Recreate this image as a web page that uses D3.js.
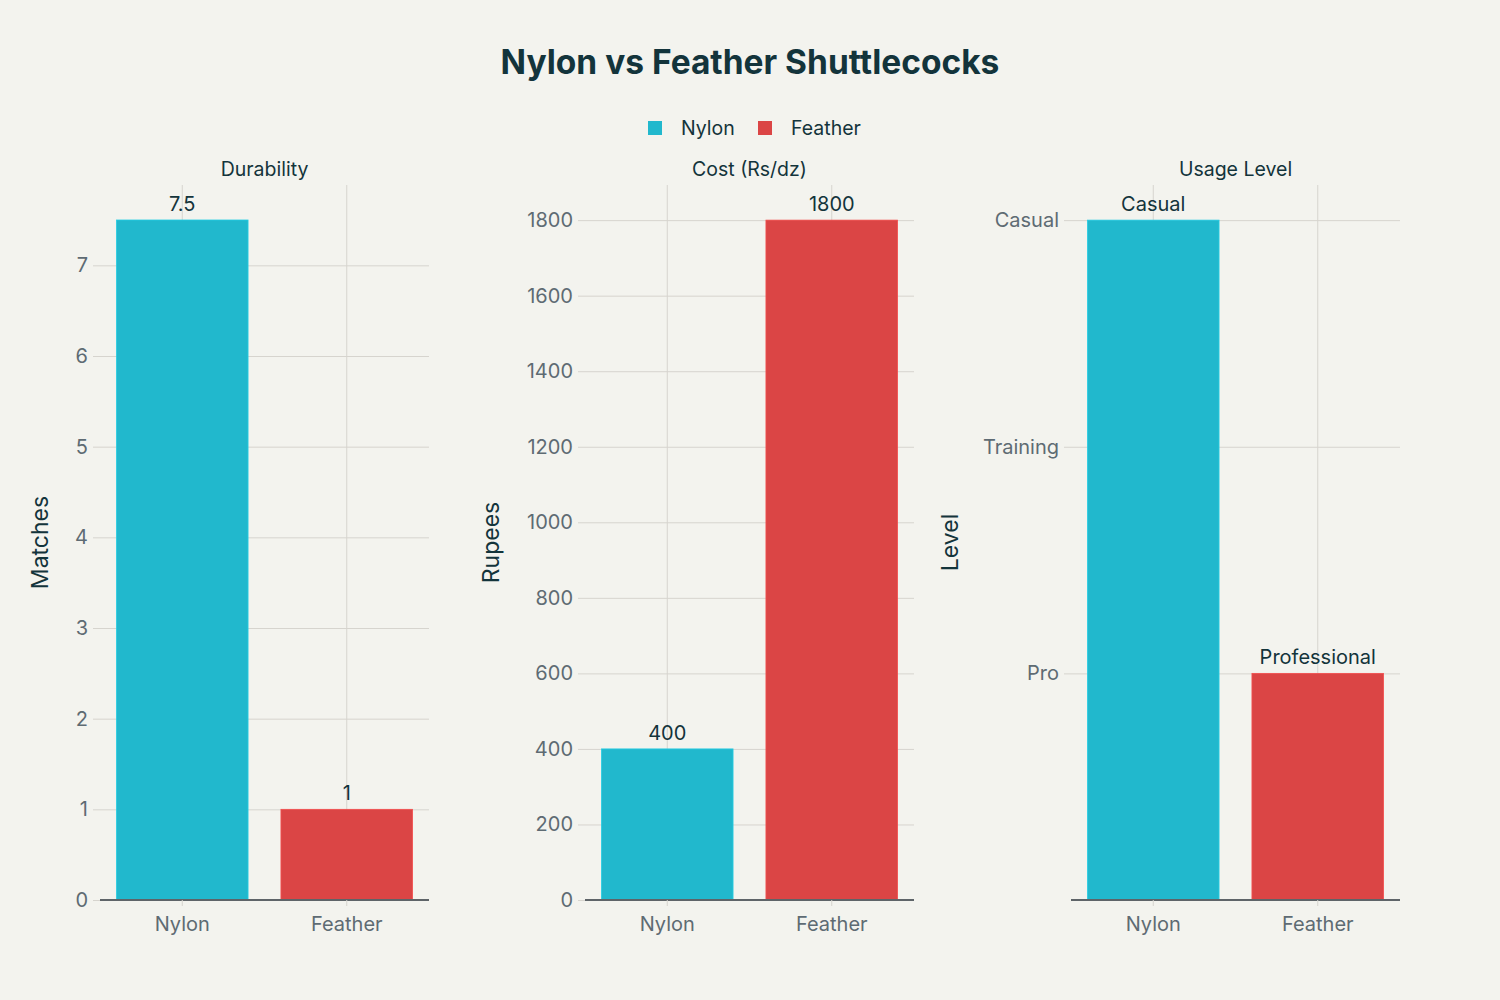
<!DOCTYPE html>
<html>
<head>
<meta charset="utf-8">
<script src="https://cdn.jsdelivr.net/npm/d3@7"></script>
<style>
  body { margin: 0; background: #F3F3EE; }
  svg { font-family: Inter, "Liberation Sans", sans-serif; }
</style>
</head>
<body>
<div id="chart"></div>
<script>
var categories = ["Nylon", "Feather"];
var colors = ["#21B8CD", "#DB4545"];

var durability = [7.5, 1];
var cost = [400, 1800];
var usageLevels = ["Pro", "Training", "Casual"];
var usage = [3, 1];
var usageText = ["Casual", "Professional"];

var durabilityTicks = [0, 1, 2, 3, 4, 5, 6, 7];
var costTicks = [0, 200, 400, 600, 800, 1000, 1200, 1400, 1600, 1800];
var usageTicks = [1, 2, 3];

var W = 1500, H = 1000;
var plotTop = 185, plotBottom = 900;

var svg = d3.select("#chart").append("svg")
	.attr("width", W)
	.attr("height", H);

svg.append("rect").attr("width", W).attr("height", H).attr("fill", "#F3F3EE");

svg.append("text")
	.attr("x", 750).attr("y", 74)
	.attr("text-anchor", "middle")
	.attr("font-size", 33.5).attr("font-weight", 700)
	.attr("fill", "#13343B")
	.text("Nylon vs Feather Shuttlecocks");

// legend
var legend = svg.append("g").attr("transform", "translate(648,128)");
categories.forEach(function(c, i) {
	var lx = i * 110;
	legend.append("rect")
		.attr("x", lx).attr("y", -7).attr("width", 14).attr("height", 14)
		.attr("fill", colors[i]);
	legend.append("text")
		.attr("x", lx + 33).attr("y", 7)
		.attr("font-size", 19.5).attr("fill", "#13343B")
		.text(c);
});

var panels = [
	{left: 100, title: "Durability", ytitle: "Matches", ytx: 40, values: durability,
	 labels: durability.map(String), domain: [0, 7.886], ticks: durabilityTicks, fmt: String},
	{left: 585, title: "Cost (Rs/dz)", ytitle: "Rupees", ytx: 491, values: cost,
	 labels: cost.map(String), domain: [0, 1893], ticks: costTicks, fmt: String},
	{left: 1071, title: "Usage Level", ytitle: "Level", ytx: 950, values: usage,
	 labels: usageText, domain: [0, 3.155], ticks: usageTicks,
	 fmt: function(d) { return usageLevels[d - 1]; }}
];

var pw = 329;

panels.forEach(function(p) {
	var g = svg.append("g");
	var x = d3.scaleBand().domain(categories).range([p.left, p.left + pw])
		.paddingInner(0.2).paddingOuter(0.1);
	var y = d3.scaleLinear().domain(p.domain).range([plotBottom, plotTop]);

	// vertical grid at category centres
	g.selectAll(".vg").data(categories).enter().append("line")
		.attr("x1", function(d) { return x(d) + x.bandwidth() / 2; })
		.attr("x2", function(d) { return x(d) + x.bandwidth() / 2; })
		.attr("y1", plotTop).attr("y2", plotBottom)
		.attr("stroke", "#D6D4CE").attr("stroke-width", 1);

	// horizontal grid + y ticks
	var ya = g.append("g")
		.attr("transform", "translate(" + p.left + ",0)")
		.call(d3.axisLeft(y).tickValues(p.ticks).tickFormat(p.fmt).tickSize(-pw).tickPadding(12));
	ya.select(".domain").remove();
	ya.selectAll(".tick line").attr("stroke", "#D6D4CE").attr("x1", -7);
	ya.selectAll(".tick text").attr("font-size", 20).attr("fill", "#5E6B73")
		.attr("font-family", "Inter, 'Liberation Sans', sans-serif");

	g.selectAll(".bar").data(p.values).enter().append("rect")
		.attr("x", function(d, i) { return x(categories[i]); })
		.attr("width", x.bandwidth())
		.attr("y", function(d) { return y(d); })
		.attr("height", function(d) { return plotBottom - y(d); })
		.attr("fill", function(d, i) { return colors[i]; })
		.attr("stroke", function(d, i) { return d3.color(colors[i]).brighter(0.3); })
		.attr("stroke-width", 0.8);

	g.selectAll(".lbl").data(p.values).enter().append("text")
		.attr("x", function(d, i) { return x(categories[i]) + x.bandwidth() / 2; })
		.attr("y", function(d) { return y(d) - 9; })
		.attr("text-anchor", "middle")
		.attr("font-size", 20).attr("fill", "#13343B")
		.text(function(d, i) { return p.labels[i]; });

	var xa = g.append("g")
		.attr("transform", "translate(0," + plotBottom + ")")
		.call(d3.axisBottom(x).tickSize(6).tickPadding(11));
	xa.select(".domain").attr("stroke", "#5E6468").attr("stroke-width", 2).attr("d", "M" + p.left + ",0H" + (p.left + pw));
	xa.selectAll(".tick line").attr("stroke", "#D6D4CE");
	xa.selectAll(".tick text").attr("font-size", 20).attr("fill", "#5E6B73")
		.attr("font-family", "Inter, 'Liberation Sans', sans-serif");

	g.append("text")
		.attr("x", p.left + pw / 2).attr("y", 176)
		.attr("text-anchor", "middle")
		.attr("font-size", 19.5).attr("fill", "#13343B")
		.text(p.title);

	g.append("text")
		.attr("transform", "translate(" + p.ytx + "," + ((plotTop + plotBottom) / 2) + ") rotate(-90)")
		.attr("text-anchor", "middle")
		.attr("dy", "0.35em")
		.attr("font-size", 23).attr("fill", "#13343B")
		.text(p.ytitle);
});
</script>
</body>
</html>
